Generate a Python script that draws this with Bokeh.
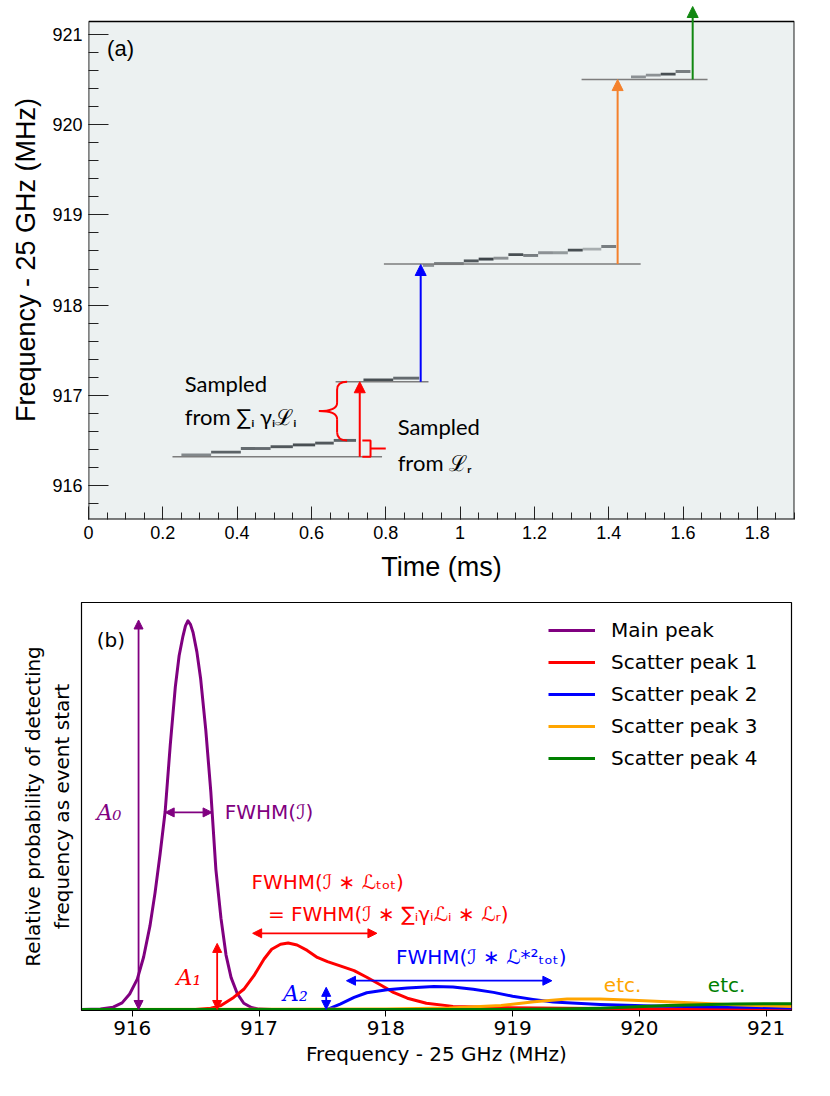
from bokeh.plotting import figure
from bokeh.models import Range1d, FixedTicker, Arrow, NormalHead
from bokeh.embed import file_html
from bokeh.resources import INLINE
from bokeh.core.properties import value

# ---------------- Panel (a) data ----------------
time_ticks = [0, 0.2, 0.4, 0.6, 0.8, 1, 1.2, 1.4, 1.6, 1.8]
time_tick_labels = ["0", "0.2", "0.4", "0.6", "0.8", "1", "1.2", "1.4", "1.6", "1.8"]
time_minor = [round(0.05 * k, 2) for k in range(0, 39)]
freq_ticks_a = [916, 917, 918, 919, 920, 921]
freq_tick_labels_a = ["916", "917", "918", "919", "920", "921"]
freq_minor_a = [round(915.6 + 0.2 * k, 1) for k in range(0, 28)]

# detected frequency track (spectrogram cells)
track_t0 = [0.25, 0.33, 0.41, 0.49, 0.55, 0.61, 0.66,
            0.74, 0.82,
            0.90, 0.93, 1.01, 1.05, 1.09, 1.13, 1.17, 1.21, 1.25, 1.29, 1.33, 1.38,
            1.46, 1.50, 1.54, 1.58]
track_t1 = [0.33, 0.41, 0.49, 0.55, 0.61, 0.66, 0.72,
            0.82, 0.89,
            0.93, 1.01, 1.05, 1.09, 1.13, 1.17, 1.21, 1.25, 1.29, 1.33, 1.38, 1.42,
            1.50, 1.54, 1.58, 1.62]
track_f = [916.34, 916.37, 916.41, 916.43, 916.45, 916.47, 916.50,
           917.17, 917.19,
           918.44, 918.46, 918.49, 918.51, 918.52, 918.56, 918.55, 918.58, 918.58, 918.61, 918.62, 918.65,
           920.53, 920.55, 920.56, 920.59]
track_alpha = [0.55, 0.75, 0.7, 0.8, 0.85, 0.8, 0.75,
               0.85, 0.7,
               0.5, 0.65, 0.8, 0.9, 0.5, 0.85, 0.6, 0.5, 0.45, 0.85, 0.35, 0.6,
               0.5, 0.5, 0.85, 0.6]

# start-frequency reference lines
base_t0 = [0.226, 0.665, 0.795, 1.327]
base_t1 = [0.79, 0.915, 1.486, 1.666]
base_f = [916.32, 917.15, 918.455, 920.5]

# frequency jumps
jump_t = [0.73, 0.894, 1.424, 1.626]
jump_f0 = [916.32, 917.15, 918.455, 920.5]
jump_f1 = [917.15, 918.45, 920.5, 921.31]

# ---------------- Panel (b) data ----------------
freq_ticks_b = [916, 917, 918, 919, 920, 921]
freq_tick_labels_b = ["916", "917", "918", "919", "920", "921"]

main_x = [915.6, 915.75, 915.85, 915.92, 915.98, 916.04, 916.09, 916.14, 916.18, 916.22, 916.26,
          916.30, 916.34, 916.37, 916.40, 916.42, 916.44, 916.46, 916.48, 916.51, 916.54,
          916.58, 916.62, 916.66, 916.70, 916.74, 916.78, 916.83, 916.88, 916.94, 917.0,
          917.1, 921.2]
main_y = [0, 0.001, 0.006, 0.017, 0.04, 0.078, 0.135, 0.215, 0.3, 0.4, 0.51,
          0.68, 0.83, 0.91, 0.96, 0.987, 1.0, 0.99, 0.97, 0.92, 0.85,
          0.72, 0.56, 0.36, 0.235, 0.14, 0.082, 0.04, 0.016, 0.005, 0.001,
          0, 0]

s1_x = [915.6, 916.5, 916.62, 916.70, 916.80, 916.88, 916.96, 917.04, 917.10, 917.17, 917.23,
        917.30, 917.38, 917.46, 917.54, 917.64, 917.75, 917.85, 917.96, 918.06, 918.17,
        918.32, 918.53, 918.90, 919.43, 920.0, 921.2]
s1_y = [0, 0, 0.003, 0.01, 0.031, 0.052, 0.087, 0.13, 0.155, 0.168, 0.171,
        0.166, 0.152, 0.134, 0.123, 0.112, 0.1, 0.083, 0.063, 0.044, 0.029,
        0.016, 0.008, 0.005, 0.003, 0.002, 0.001]

s2_x = [915.6, 917.54, 917.64, 917.75, 917.85, 918.01, 918.17, 918.38, 918.53, 918.69,
        918.85, 919.0, 919.16, 919.32, 919.69, 920.1, 920.5, 921.2]
s2_y = [0, 0, 0.014, 0.031, 0.043, 0.051, 0.055, 0.059, 0.058, 0.052,
        0.044, 0.034, 0.026, 0.019, 0.013, 0.009, 0.007, 0.004]

s3_x = [915.6, 918.0, 918.5, 918.91, 919.17, 919.43, 919.69, 919.95, 920.35, 920.74, 921.2]
s3_y = [0, 0.001, 0.004, 0.01, 0.02, 0.027, 0.027, 0.024, 0.018, 0.012, 0.008]

s4_x = [915.6, 919.0, 919.4, 919.69, 920.22, 920.74, 921.2]
s4_y = [0, 0, 0.001, 0.003, 0.01, 0.014, 0.015]

series_names = ["Main peak", "Scatter peak 1", "Scatter peak 2", "Scatter peak 3", "Scatter peak 4"]

# ---------------- Panel (a) ----------------
SANS_A = "Liberation Sans"
T_MAX = 1.9
F_MIN, F_MAX = 915.623, 921.144          # visible spectrogram window
mhz_per_px = (F_MAX - F_MIN) / 498
TOP_PAD = 21                               # white strip above the window (room for the last arrow)
pa = figure(output_backend="svg", toolbar_location=None,
            frame_width=706, frame_height=498 + TOP_PAD,
            x_range=Range1d(0, T_MAX), y_range=Range1d(F_MIN, F_MAX + TOP_PAD * mhz_per_px),
            min_border_left=88, min_border_right=12, min_border_top=0, min_border_bottom=69)
pa.background_fill_color = "white"
pa.border_fill_color = "white"
pa.outline_line_color = None
pa.grid.visible = False

pa.xaxis.ticker = FixedTicker(ticks=time_ticks, minor_ticks=time_minor)
pa.xaxis.major_label_overrides = dict(zip(time_ticks, time_tick_labels))
pa.yaxis.ticker = FixedTicker(ticks=freq_ticks_a, minor_ticks=freq_minor_a)
pa.yaxis.major_label_overrides = dict(zip(freq_ticks_a, freq_tick_labels_a))
pa.xaxis.major_tick_in = 13
pa.xaxis.minor_tick_in = 7
pa.yaxis.major_tick_in = 20
pa.yaxis.minor_tick_in = 10
for ax in (pa.xaxis[0], pa.yaxis[0]):
    ax.major_tick_out = 0
    ax.minor_tick_out = 0
    ax.major_tick_line_color = "#222222"
    ax.minor_tick_line_color = "#222222"
    ax.axis_line_color = None
    ax.major_label_text_font = SANS_A
    ax.major_label_text_font_size = "18px"
    ax.major_label_text_color = "black"
    ax.axis_label_text_font = SANS_A
    ax.axis_label_text_font_size = "27px"
    ax.axis_label_text_font_style = "normal"
    ax.axis_label_text_color = "black"
pa.xaxis.axis_label = "Time (ms)"
pa.yaxis.axis_label = "Frequency - 25 GHz (MHz)"
pa.xaxis.major_label_standoff = 6
pa.yaxis.major_label_standoff = 6
pa.xaxis.axis_label_standoff = 10
pa.yaxis.axis_label_standoff = 8

# spectrogram window background
pa.quad(left=[0], right=[T_MAX], bottom=[F_MIN], top=[F_MAX],
        fill_color="#ecf1f1", line_color=None, level="underlay")

half = 0.016
pa.quad(left=track_t0, right=track_t1,
        bottom=[f - half for f in track_f], top=[f + half for f in track_f],
        fill_color="#2b3237", fill_alpha=track_alpha, line_color=None)
pa.segment(x0=base_t0, y0=base_f, x1=base_t1, y1=base_f, line_color="#7d7d7d", line_width=1.5)

pa.line(x=[0.0005, 0.0005, T_MAX - 0.0008, T_MAX - 0.0008, 0.0005],
        y=[F_MIN + 0.003, F_MAX, F_MAX, F_MIN + 0.003, F_MIN + 0.003],
        line_color="black", line_width=1.3)

jump_colors = ["#ff0000", "#0000ff", "#f4812c", "#118811"]
for t, f0, f1, c in zip(jump_t, jump_f0, jump_f1, jump_colors):
    pa.add_layout(Arrow(end=NormalHead(size=11, fill_color=c, line_color=c),
                        x_start=t, y_start=f0, x_end=t, y_end=f1,
                        line_color=c, line_width=2))

# curly brace (sum of Lorentzians) and small bracket (L_r)
bx_end, bx_mid, bx_tip = 0.696, 0.669, 0.62
bf_top, bf_bot = base_f[1], track_f[6]
bf_tip = (bf_top + bf_bot) / 2
curl = 0.09
pa.quadratic(x0=[bx_end, bx_mid, bx_tip, bx_mid],
             y0=[bf_top, bf_tip + curl, bf_tip, bf_bot + curl],
             x1=[bx_mid, bx_tip, bx_mid, bx_end],
             y1=[bf_top - curl, bf_tip, bf_tip - curl, bf_bot],
             cx=[bx_mid, bx_mid, bx_mid, bx_mid],
             cy=[bf_top, bf_tip, bf_tip, bf_bot],
             line_color="#ff0000", line_width=2)
pa.segment(x0=[bx_mid, bx_mid], y0=[bf_top - curl, bf_tip - curl],
           x1=[bx_mid, bx_mid], y1=[bf_tip + curl, bf_bot + curl],
           line_color="#ff0000", line_width=2)
sx0, sx1, sxt = 0.737, 0.759, 0.80
sf_top, sf_bot = track_f[6], base_f[0]
sf_mid = (sf_top + sf_bot) / 2
pa.line(x=[sx0, sx1, sx1, sx0], y=[sf_top, sf_top, sf_bot, sf_bot], line_color="#ff0000", line_width=2)
pa.segment(x0=[sx1], y0=[sf_mid], x1=[sxt], y1=[sf_mid], line_color="#ff0000", line_width=2)

ANN = value("Lato")
pa.text(x=[0.259, 0.259, 0.832, 0.832], y=[917.13, 916.76, 916.65, 916.26],
        text=["Sampled", "from \u2211\u1d62 \u03b3\u1d62\u2112\u1d62", "Sampled", "from \u2112\u1d63"],
        text_font=ANN, text_font_size="22px", text_color="black",
        text_align="left", text_baseline="middle")
pa.text(x=[0.05], y=[920.84], text=["(a)"], text_font=value(SANS_A), text_font_size="22px",
        text_color="black", text_align="left", text_baseline="middle")

# ---------------- Panel (b) ----------------
SANS_B = "DejaVu Sans"
pb = figure(output_backend="svg", toolbar_location=None,
            frame_width=710, frame_height=408,
            x_range=Range1d(915.6, 921.2), y_range=Range1d(-0.0026, 1.047),
            min_border_left=81, min_border_right=15, min_border_top=14, min_border_bottom=60)
pb.background_fill_color = "white"
pb.outline_line_color = "black"
pb.outline_line_width = 1.2
pb.grid.visible = False
pb.xaxis.ticker = FixedTicker(ticks=freq_ticks_b, minor_ticks=[])
pb.xaxis.major_label_overrides = dict(zip(freq_ticks_b, freq_tick_labels_b))
pb.xaxis.major_tick_out = 6
pb.xaxis.major_tick_in = 0
pb.xaxis.major_tick_line_color = "black"
pb.xaxis.major_label_standoff = 4
pb.yaxis.ticker = FixedTicker(ticks=[], minor_ticks=[])
pb.yaxis.major_tick_line_color = None
pb.yaxis.minor_tick_line_color = None
for ax in (pb.xaxis[0], pb.yaxis[0]):
    ax.axis_line_color = "black"
    ax.major_label_text_font = SANS_B
    ax.major_label_text_font_size = "20px"
    ax.major_label_text_color = "black"
    ax.axis_label_text_font = SANS_B
    ax.axis_label_text_font_size = "20px"
    ax.axis_label_text_font_style = "normal"
    ax.axis_label_text_color = "black"
pb.xaxis.axis_label = "Frequency - 25 GHz (MHz)"
pb.yaxis.axis_label = "Relative probability of detecting\nfrequency as event start"
pb.xaxis.axis_label_standoff = 4
pb.yaxis.axis_label_standoff = 8

curve_colors = ["purple", "red", "blue", "orange", "green"]
curves = [(main_x, main_y), (s1_x, s1_y), (s2_x, s2_y), (s3_x, s3_y), (s4_x, s4_y)]
for (cx_, cy_), c, name in zip(curves, curve_colors, series_names):
    pb.line(x=cx_, y=cy_, line_color=c, line_width=3, line_join="round", legend_label=name)

lg = pb.legend[0]
lg.location = (467, 240)
lg.border_line_color = None
lg.background_fill_alpha = 0
lg.label_text_font = SANS_B
lg.label_text_font_size = "20px"
lg.label_text_color = "black"
lg.glyph_width = 47
lg.glyph_height = 20
lg.label_height = 20
lg.spacing = 8
lg.padding = 0
lg.margin = 0
lg.label_standoff = 16


def darrow(p, x0, y0, x1, y1, c, w=1.8):
    p.add_layout(Arrow(start=NormalHead(size=9, fill_color=c, line_color=c),
                       end=NormalHead(size=9, fill_color=c, line_color=c),
                       x_start=x0, y_start=y0, x_end=x1, y_end=y1,
                       line_color=c, line_width=w))


darrow(pb, 916.05, 0, 916.05, 1.002, "purple")
darrow(pb, 916.26, 0.507, 916.63, 0.507, "purple")
darrow(pb, 916.67, 0, 916.67, 0.17, "red")
darrow(pb, 916.95, 0.196, 917.93, 0.196, "red")
darrow(pb, 917.53, 0, 917.53, 0.057, "blue")
darrow(pb, 917.69, 0.074, 919.31, 0.074, "blue")

def txt(p, x, y, s, c, font=SANS_B, size="20px", style="normal"):
    p.text(x=[x], y=[y], text=[s], text_color=c, text_font=value(font), text_font_size=size,
           text_font_style=style, text_align="left", text_baseline="middle")

txt(pb, 915.72, 0.95, "(b)", "black")
txt(pb, 915.72, 0.507, "A\u2080", "purple", font="DejaVu Serif", size="22px", style="italic")
txt(pb, 916.73, 0.507, "FWHM(\u2110)", "purple")
txt(pb, 916.94, 0.327, "FWHM(\u2110 \u2217 \u2112\u209c\u2092\u209c)", "red")
txt(pb, 917.07, 0.245, "= FWHM(\u2110 \u2217 \u2211\u1d62\u03b3\u1d62\u2112\u1d62 \u2217 \u2112\u1d63)", "red")
txt(pb, 916.35, 0.082, "A\u2081", "red", font="DejaVu Serif", size="22px", style="italic")
txt(pb, 917.19, 0.041, "A\u2082", "blue", font="DejaVu Serif", size="22px", style="italic")
txt(pb, 918.08, 0.134, "FWHM(\u2110 \u2217 \u2112*\u00b2\u209c\u2092\u209c)", "blue")
txt(pb, 919.72, 0.064, "etc.", "orange")
txt(pb, 920.54, 0.064, "etc.", "green")

open("out.html", "w").write(file_html([pa, pb], INLINE))
